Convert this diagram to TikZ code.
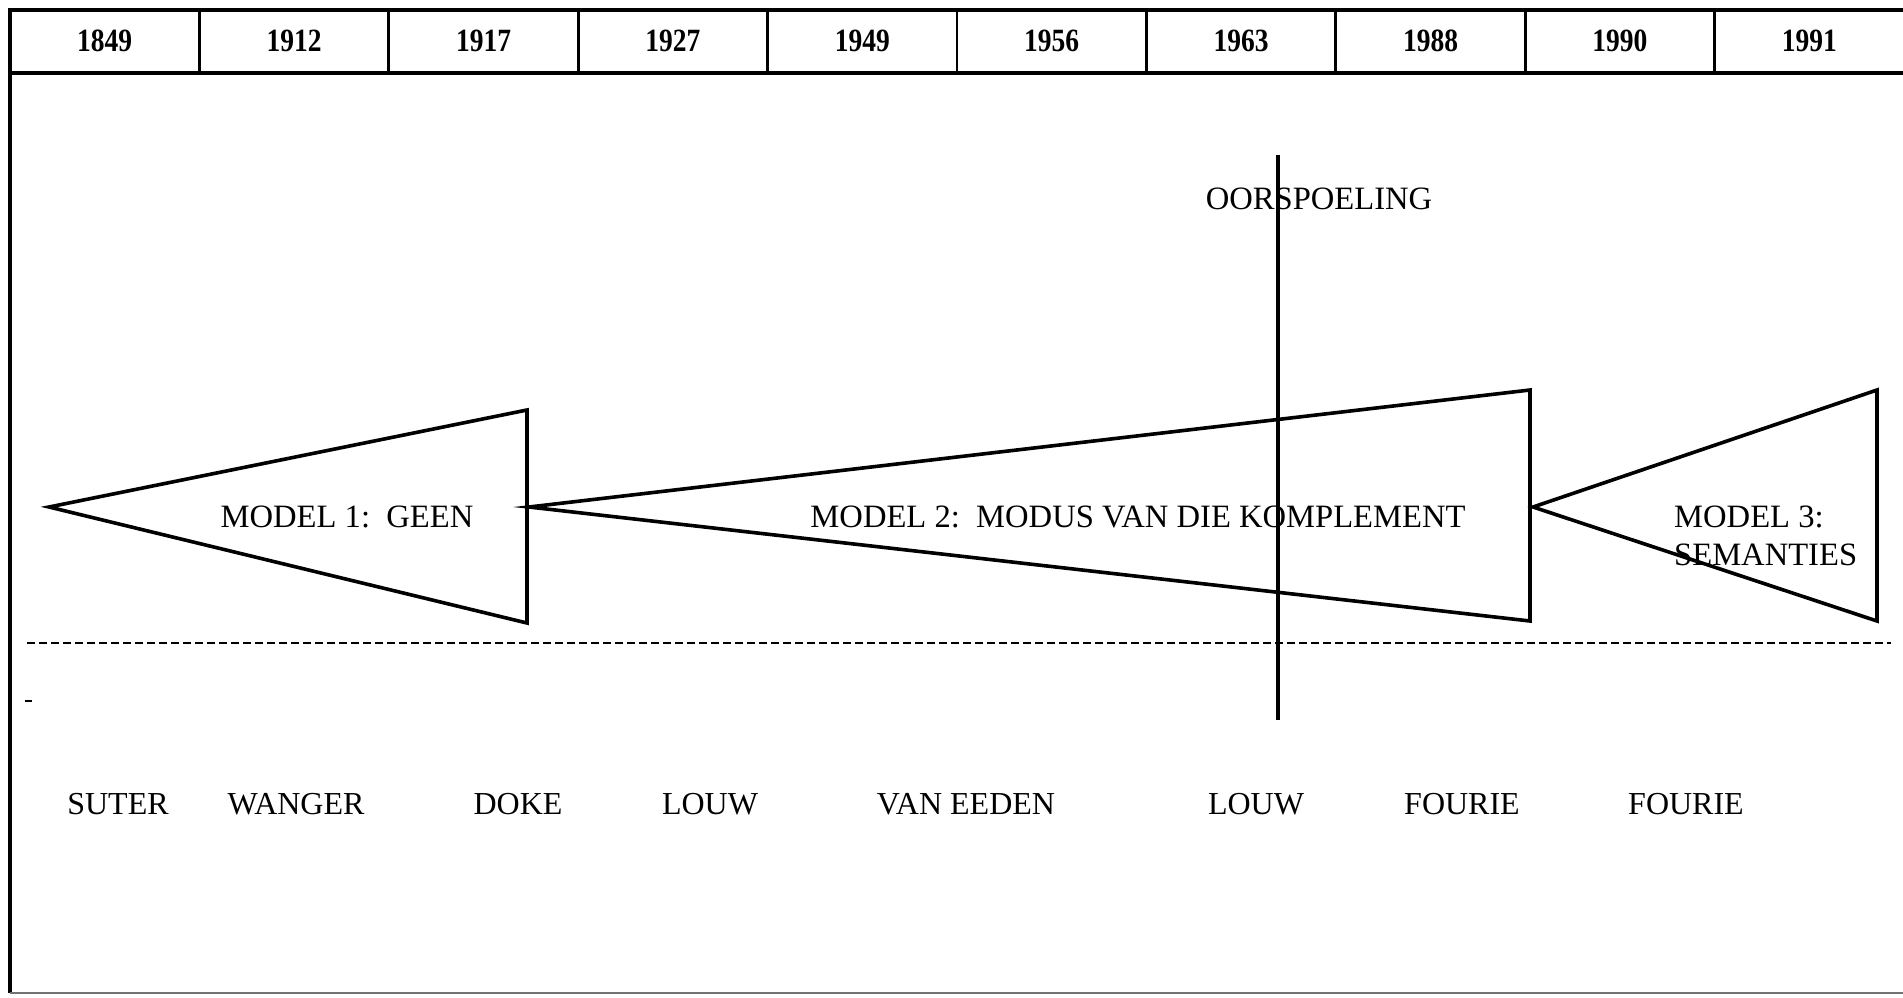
\documentclass[tikz,border=0pt]{standalone}
\usepackage{fontspec}
\setmainfont{Liberation Serif}
\begin{document}
\begin{tikzpicture}[x=1pt,y=-1pt,
  frame/.style={line width=3.4pt},
  wedge/.style={line width=3.6pt, line join=miter},
  yeartext/.style={font=\fontsize{27.5}{30}\selectfont\bfseries, inner sep=0pt},
  modeltext/.style={font=\fontsize{32.6}{38}\selectfont, inner sep=0pt},
  authortext/.style={font=\fontsize{32}{36}\selectfont, inner sep=0pt}]
\useasboundingbox (0,0) rectangle (1903,997);
\fill[white] (0,0) rectangle (1903,997);

% outer frame and year header
\draw[frame] (1903,10) -- (10,10) -- (10,993);
\draw[line width=2.4pt, black!55] (10,993) -- (1903,993);
\draw[frame] (10,73) -- (1903,73);
\foreach \i in {1,...,9}
  \draw[line width=2.8pt] ({10+189.4*\i},10) -- ({10+189.4*\i},73);
\foreach \y [count=\i from 0] in {1849,1912,1917,1927,1949,1956,1963,1988,1990,1991}
  \node[yeartext] (y\y) at ({10+189.4*\i+94.7},41) {\scalebox{1}[1.18]{\y}};

% model wedges
\coordinate (m1tip) at (49,507);
\coordinate (m1top) at (527,410);
\coordinate (m1bot) at (527,623);
\coordinate (m2tip) at (529,507);
\coordinate (m2top) at (1530,390);
\coordinate (m2bot) at (1530,621);
\coordinate (m3tip) at (1533,507);
\coordinate (m3top) at (1877,390);
\coordinate (m3bot) at (1877,621);
\draw[wedge] (m1tip) -- (m1top) -- (m1bot) -- cycle;
\draw[wedge] (m2tip) -- (m2top) -- (m2bot) -- cycle;
\draw[wedge] (m3tip) -- (m3top) -- (m3bot) -- cycle;

\node[modeltext] (m1) at (347,517) {MODEL 1:\ \ GEEN};
\node[modeltext] (m2) at (1138,517) {MODEL 2:\ \ MODUS VAN DIE KOMPLEMENT};
\node[modeltext, anchor=west] (m3a) at (1674,517) {MODEL 3:};
\node[modeltext, anchor=west] (m3b) at (1674,555) {SEMANTIES};

% divider line and the reflux marker
\draw[line width=2.3pt, dash pattern=on 8pt off 4pt] (27,643) -- (1891,643);
\draw[line width=2.6pt] (25,701) -- (32,701);
\coordinate (vtop) at (1278,155);
\coordinate (vbot) at (1278,720);
\node[modeltext] (oor) at (1319,199) {OORSPOELING};
\draw[line width=3.4pt] (vtop) -- (vbot);

% authors
\node[authortext] (a1) at (118,804) {SUTER};
\node[authortext] (a2) at (296,804) {WANGER};
\node[authortext] (a3) at (518,804) {DOKE};
\node[authortext] (a4) at (710,804) {LOUW};
\node[authortext] (a5) at (966,804) {VAN EEDEN};
\node[authortext] (a6) at (1256,804) {LOUW};
\node[authortext] (a7) at (1462,804) {FOURIE};
\node[authortext] (a8) at (1686,804) {FOURIE};
\end{tikzpicture}
\end{document}
